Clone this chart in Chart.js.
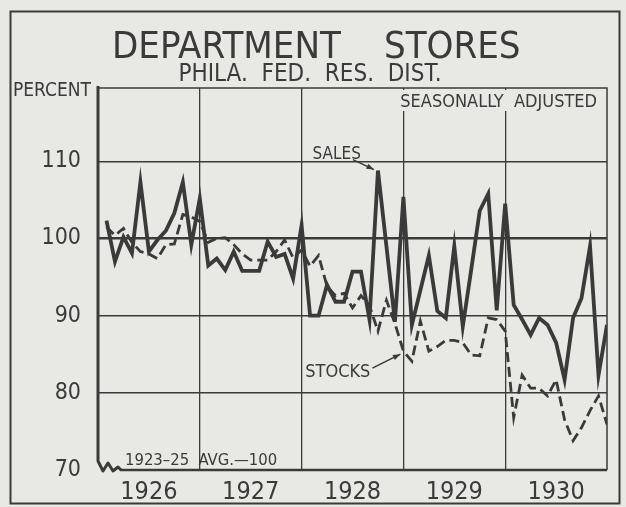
<!DOCTYPE html>
<html>
<head>
<meta charset="utf-8">
<script src="https://cdn.jsdelivr.net/npm/chart.js@4/dist/chart.umd.min.js"></script>
<style>
  body { margin: 0; background: #e8e8e5; }
  #wrap { width: 626px; height: 507px; }
</style>
</head>
<body>
<div id="wrap"><canvas id="storesChart" width="626" height="507"></canvas></div>
<script>
// monthly index, Jan 1926 .. Dec 1930 (1923-25 avg = 100)
const years = ["1926", "1927", "1928", "1929", "1930"];
const yTicks = [70, 80, 90, 100, 110];
const sales = [
  102.3, 97.0, 100.2, 98.1, 107.3, 98.3, 99.8, 101.0, 103.3, 107.3, 99.2, 105.2,
  96.5, 97.4, 95.9, 98.3, 95.8, 95.8, 95.8, 99.6, 97.6, 98.0, 94.8, 101.7,
  90.0, 90.0, 94.0, 91.8, 91.8, 95.7, 95.7, 89.5, 108.8, 99.0, 89.2, 105.4,
  88.8, 93.3, 97.8, 90.6, 89.7, 99.0, 88.6, 96.0, 103.6, 105.8, 90.7, 104.5,
  91.4, 89.5, 87.5, 89.7, 88.8, 86.5, 81.7, 89.7, 92.3, 99.0, 82.3, 88.8
];
const stocks = [
  101.5, 100.4, 101.3, 99.5, 98.3, 98.0, 97.4, 99.2, 99.3, 103.1, 102.8, 102.2,
  99.5, 100.0, 100.1, 99.2, 98.0, 97.2, 97.2, 97.2, 98.3, 99.8, 97.5, 98.5,
  96.4, 97.8, 93.8, 92.6, 92.9, 91.0, 92.6, 91.3, 88.0, 92.0, 89.0, 85.4,
  84.1, 89.3, 85.4, 86.0, 86.8, 86.8, 86.5, 84.9, 84.8, 89.7, 89.5, 88.0,
  76.8, 82.3, 80.6, 80.6, 79.6, 81.7, 76.5, 73.8, 75.5, 77.7, 79.6, 75.9
];

const ink = "#3a3a3a";
const paper = "#e8e8e5";
const letterFont = '"DejaVu Sans Condensed", "DejaVu Sans", sans-serif';

// points sit at the end of each month
function toPoints(arr) {
  return arr.map((v, i) => ({ x: i + 1, y: v }));
}

function arrow(ctx, x1, y1, x2, y2) {
  ctx.beginPath();
  ctx.moveTo(x1, y1);
  ctx.lineTo(x2, y2);
  ctx.stroke();
  let a = Math.atan2(y2 - y1, x2 - x1);
  ctx.beginPath();
  ctx.moveTo(x2, y2);
  ctx.lineTo(x2 - 8 * Math.cos(a - 0.35), y2 - 8 * Math.sin(a - 0.35));
  ctx.lineTo(x2 - 8 * Math.cos(a + 0.35), y2 - 8 * Math.sin(a + 0.35));
  ctx.closePath();
  ctx.fill();
}

const decorPlugin = {
  id: "decor",
  beforeDraw(chart) {
    const ctx = chart.ctx;
    ctx.save();
    ctx.fillStyle = paper;
    ctx.fillRect(0, 0, chart.width, chart.height);
    ctx.restore();
  },
  afterDraw(chart) {
    const ctx = chart.ctx;
    const a = chart.chartArea;
    const xs = chart.scales.x, ys = chart.scales.y;
    ctx.save();
    ctx.strokeStyle = ink;
    ctx.fillStyle = ink;

    // outer frame
    ctx.lineWidth = 2;
    ctx.strokeRect(10.5, 11.5, 609, 492);

    // clear grid behind the note in the top right corner
    ctx.fillStyle = paper;
    ctx.fillRect(a.right - 218, a.top + 2, 214, 21);
    ctx.fillStyle = ink;

    // plot frame with axis break at bottom left
    ctx.lineWidth = 1.5;
    ctx.beginPath();
    ctx.moveTo(a.left, a.top);
    ctx.lineTo(a.right, a.top);
    ctx.lineTo(a.right, a.bottom);
    ctx.stroke();
    ctx.lineWidth = 3;
    ctx.lineJoin = "round";
    ctx.beginPath();
    ctx.moveTo(a.left, a.top - 2);
    ctx.lineTo(a.left, a.bottom - 9);
    ctx.lineTo(a.left + 5, a.bottom + 1);
    ctx.lineTo(a.left + 10, a.bottom - 7);
    ctx.lineTo(a.left + 15, a.bottom + 1);
    ctx.lineTo(a.left + 20, a.bottom - 3);
    ctx.lineTo(a.left + 23, a.bottom);
    ctx.stroke();
    ctx.lineWidth = 2.5;
    ctx.beginPath();
    ctx.moveTo(a.left + 22, a.bottom);
    ctx.lineTo(a.right, a.bottom);
    ctx.stroke();

    // titles
    ctx.textBaseline = "alphabetic";
    ctx.textAlign = "left";
    ctx.font = "38px " + letterFont;
    ctx.fillText("DEPARTMENT", 112, 58);
    ctx.fillText("STORES", 384, 58);
    ctx.textAlign = "center";
    ctx.font = "24px " + letterFont;
    ctx.fillText("PHILA.  FED.  RES.  DIST.", 310, 81);
    ctx.textAlign = "left";
    ctx.font = "19px " + letterFont;
    ctx.fillText("PERCENT", 13, 96);
    ctx.textAlign = "right";
    ctx.font = "18px " + letterFont;
    ctx.fillText("SEASONALLY  ADJUSTED", a.right - 10, 107);
    ctx.textAlign = "left";
    ctx.font = "16.5px " + letterFont;
    ctx.fillText("1923\u201325  AVG.\u2014100", 125, 465);

    // series labels with arrows
    ctx.lineWidth = 1.5;
    let peak = sales.indexOf(Math.max(...sales));
    let px = xs.getPixelForValue(peak + 1), py = ys.getPixelForValue(sales[peak]);
    ctx.font = "17px " + letterFont;
    ctx.textAlign = "right";
    ctx.fillText("SALES", px - 17, py - 12);
    arrow(ctx, px - 25, py - 11, px - 4, py - 1);

    let si = 35;
    let sx = xs.getPixelForValue(si + 1), sy = ys.getPixelForValue(stocks[si]);
    ctx.font = "18px " + letterFont;
    ctx.fillText("STOCKS", sx - 33, sy + 26);
    arrow(ctx, sx - 31, sy + 17, sx - 3, sy + 3);
    ctx.restore();
  }
};

new Chart(document.querySelector("#storesChart"), {
  type: "line",
  data: {
    datasets: [
      {
        label: "Sales",
        data: toPoints(sales),
        borderColor: ink,
        borderWidth: 3.8,
        pointRadius: 0,
        tension: 0,
        borderJoinStyle: "miter",
      },
      {
        label: "Stocks",
        data: toPoints(stocks),
        borderColor: ink,
        borderWidth: 2.8,
        borderDash: [10, 5],
        pointRadius: 0,
        tension: 0,
      },
    ],
  },
  options: {
    responsive: false,
    animation: false,
    layout: { padding: { top: 88, right: 19, left: 0, bottom: 0 } },
    plugins: { legend: { display: false }, tooltip: { enabled: false } },
    scales: {
      x: {
        type: "linear",
        min: 0,
        max: 60,
        afterBuildTicks: (s) => {
          s.ticks = [];
          for (let v = 0; v <= 60; v += 6) s.ticks.push({ value: v });
        },
        afterFit: (s) => { s.height = 37; },
        border: { display: false },
        grid: {
          drawTicks: false,
          lineWidth: 1.3,
          color: (c) => (c.tick && c.tick.value % 12 === 0 && c.tick.value > 0 && c.tick.value < 60 ? ink : "rgba(0,0,0,0)"),
        },
        ticks: {
          autoSkip: false,
          maxRotation: 0,
          padding: 7,
          color: ink,
          font: { family: letterFont, size: 25 },
          callback: (v) => (v % 12 === 6 ? years[(v - 6) / 12] : ""),
        },
      },
      y: {
        min: 70,
        max: 119.5,
        afterBuildTicks: (s) => { s.ticks = yTicks.map((v) => ({ value: v })); },
        afterFit: (s) => { s.width = 98; },
        border: { display: false },
        grid: {
          drawTicks: false,
          lineWidth: (c) => (c.tick && c.tick.value === 100 ? 2.4 : 1.6),
          color: (c) => (c.tick && c.tick.value === 70 ? "rgba(0,0,0,0)" : ink),
        },
        ticks: {
          padding: 17,
          color: ink,
          font: { family: letterFont, size: 23 },
        },
      },
    },
  },
  plugins: [decorPlugin],
});
</script>
</body>
</html>
